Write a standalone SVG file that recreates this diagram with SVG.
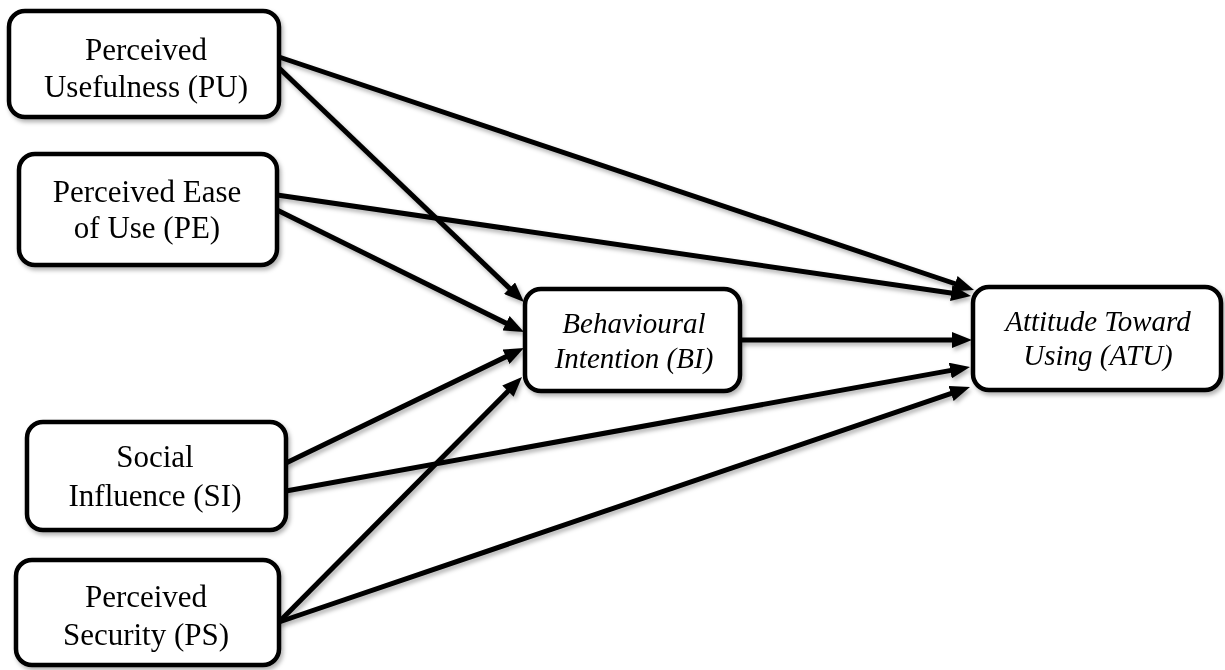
<svg xmlns="http://www.w3.org/2000/svg" width="1225" height="670" viewBox="0 0 1225 670">
<style>
.box{fill:#fff;stroke:#000;stroke-width:4.5}
.t{font-family:"Liberation Serif","Times New Roman",serif;font-size:31px;fill:#000;text-anchor:middle}
.ti{font-family:"Liberation Serif","Times New Roman",serif;font-size:29px;font-style:italic;fill:#000;text-anchor:middle}
.c{stroke:#000;stroke-width:5;fill:none;marker-end:url(#ah)}
</style>
<defs>
<marker id="ah" markerUnits="userSpaceOnUse" viewBox="0 0 20 16" refX="12" refY="8" markerWidth="20" markerHeight="16" orient="auto">
<path d="M0,0 L20,8 L0,16 z" fill="#000"/>
</marker>
<filter id="sh" x="-5%" y="-5%" width="110%" height="120%">
<feDropShadow dx="2" dy="3" stdDeviation="2" flood-color="#000" flood-opacity="0.3"/>
</filter>
</defs>
<rect width="1225" height="670" fill="#fff"/>
<g id="connectors" filter="url(#sh)">
<line class="c" x1="279" y1="57" x2="966.4" y2="287.5"/>
<line class="c" x1="279" y1="68" x2="518.2" y2="296.5"/>
<line class="c" x1="277" y1="195" x2="963.1" y2="294.8"/>
<line class="c" x1="277" y1="210" x2="516.8" y2="328.5"/>
<line class="c" x1="286" y1="463" x2="516.8" y2="351.5"/>
<line class="c" x1="286" y1="491" x2="962.1" y2="368.4"/>
<line class="c" x1="279" y1="622" x2="516.4" y2="382.7"/>
<line class="c" x1="279" y1="622" x2="962.4" y2="389.6"/>
<line class="c" x1="740" y1="340" x2="964" y2="340"/>
</g>
<g id="PU" filter="url(#sh)">
<rect class="box" x="9" y="11" width="270" height="106" rx="16"/>
<text class="t" x="146" y="60">Perceived</text>
<text class="t" x="146" y="97">Usefulness (PU)</text>
</g>
<g id="PE" filter="url(#sh)">
<rect class="box" x="19" y="154" width="258" height="111" rx="16"/>
<text class="t" x="147" y="202">Perceived Ease</text>
<text class="t" x="147" y="238">of Use (PE)</text>
</g>
<g id="SI" filter="url(#sh)">
<rect class="box" x="27" y="422" width="259" height="108" rx="16"/>
<text class="t" x="155" y="467">Social</text>
<text class="t" x="155" y="506">Influence (SI)</text>
</g>
<g id="PS" filter="url(#sh)">
<rect class="box" x="16" y="560" width="263" height="105" rx="16"/>
<text class="t" x="146" y="607">Perceived</text>
<text class="t" x="146" y="645">Security (PS)</text>
</g>
<g id="BI" filter="url(#sh)">
<rect class="box" x="525" y="289" width="215" height="102" rx="16"/>
<text class="ti" x="634" y="333">Behavioural</text>
<text class="ti" x="634" y="368">Intention (BI)</text>
</g>
<g id="ATU" filter="url(#sh)">
<rect class="box" x="973" y="287" width="248" height="103" rx="16"/>
<text class="ti" x="1098" y="331">Attitude Toward</text>
<text class="ti" x="1098" y="365">Using (ATU)</text>
</g>
</svg>
